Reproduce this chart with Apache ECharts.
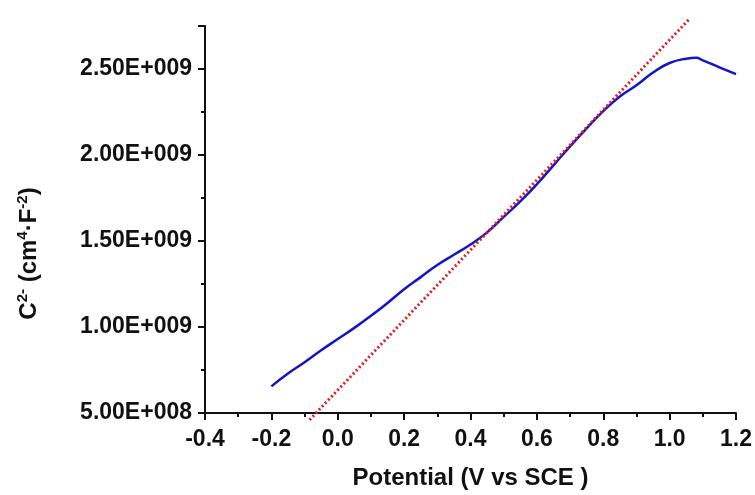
<!DOCTYPE html>
<html>
<head>
<meta charset="utf-8">
<script src="https://cdn.jsdelivr.net/npm/echarts@6/dist/echarts.min.js"></script>
<style>
  html, body { margin: 0; padding: 0; background: #fff; }
  #chart { width: 755px; height: 495px; }
</style>
</head>
<body>
<div id="chart"></div>
<script>
var myChart = echarts.init(document.getElementById('chart'));

// measured curve (potential V, C^-2)
var potential = [-0.2, -0.15, -0.1, -0.05, 0.0, 0.05, 0.1, 0.15, 0.2, 0.25,
    0.3, 0.35, 0.4, 0.45, 0.5, 0.55, 0.6, 0.65, 0.7, 0.75,
    0.8, 0.85, 0.9, 0.95, 1.0, 1.05, 1.08, 1.1, 1.15, 1.2];
var capInv = [6.55e8, 7.3e8, 7.95e8, 8.65e8, 9.3e8, 9.95e8, 1.065e9, 1.14e9, 1.22e9, 1.29e9,
    1.36e9, 1.42e9, 1.48e9, 1.55e9, 1.64e9, 1.73e9, 1.83e9, 1.94e9, 2.05e9, 2.155e9,
    2.255e9, 2.34e9, 2.405e9, 2.48e9, 2.535e9, 2.56e9, 2.565e9, 2.55e9, 2.51e9, 2.47e9];

// linear fit (Mott-Schottky line)
var fitX = [-0.085, 1.062];
var fitY = [4.6e8, 2.796e9];

var curveData = potential.map(function (x, i) { return [x, capInv[i]]; });
var fitData = fitX.map(function (x, i) { return [x, fitY[i]]; });

function sciLabel(v) {
    var s = v.toExponential(2).split('e');
    var exp = parseInt(s[1], 10);
    var sign = exp < 0 ? '-' : '+';
    var e = String(Math.abs(exp));
    while (e.length < 3) e = '0' + e;
    return s[0] + 'E' + sign + e;
}

var fontName = 'Liberation Sans, Arial, sans-serif';
var labelFont = {
    fontFamily: fontName,
    fontWeight: 'bold',
    fontSize: 23,
    color: '#111'
};

option = {
    animation: false,
    backgroundColor: '#fff',
    grid: {
        left: 205,
        right: 17,
        top: 26,
        bottom: 82
    },
    xAxis: {
        type: 'value',
        min: -0.4,
        max: 1.2,
        interval: 0.2,
        name: 'Potential (V vs SCE )',
        nameLocation: 'middle',
        nameGap: 53,
        nameTextStyle: {
            fontFamily: fontName,
            fontWeight: 'bold',
            fontSize: 24,
            color: '#111'
        },
        splitLine: { show: false },
        axisLine: {
            onZero: false,
            lineStyle: { color: '#111', width: 2 }
        },
        axisTick: {
            length: 7,
            lineStyle: { color: '#111', width: 2 }
        },
        minorTick: {
            show: true,
            splitNumber: 2,
            length: 4,
            lineStyle: { color: '#111', width: 2 }
        },
        axisLabel: Object.assign({
            margin: 15,
            formatter: function (v) { return v.toFixed(1); }
        }, labelFont)
    },
    yAxis: {
        type: 'value',
        min: 5e8,
        max: 2.75e9,
        interval: 5e8,
        name: '{n|C}{s|2-}{n| (cm}{s|4}{n|·F}{s|-2}{n|)}',
        nameLocation: 'middle',
        nameGap: 162,
        nameTextStyle: {
            padding: [0, 68, 0, 0],
            rich: {
                n: {
                    fontFamily: fontName,
                    fontWeight: 'bold',
                    fontSize: 24,
                    color: '#111',
                    lineHeight: 28
                },
                s: {
                    fontFamily: fontName,
                    fontWeight: 'bold',
                    fontSize: 15,
                    color: '#111',
                    lineHeight: 28,
                    verticalAlign: 'top',
                    padding: [0, 0, 9, 0]
                }
            }
        },
        splitLine: { show: false },
        axisLine: {
            onZero: false,
            lineStyle: { color: '#111', width: 2 }
        },
        axisTick: {
            length: 7,
            lineStyle: { color: '#111', width: 2 }
        },
        minorTick: {
            show: true,
            splitNumber: 2,
            length: 4,
            lineStyle: { color: '#111', width: 2 }
        },
        axisLabel: Object.assign({
            margin: 13,
            showMaxLabel: false,
            formatter: function (v) {
                if (Math.abs(v / 5e8 - Math.round(v / 5e8)) > 1e-6) return '';
                return sciLabel(v);
            }
        }, labelFont)
    },
    series: [{
        name: 'C-2',
        type: 'line',
        data: curveData,
        showSymbol: false,
        smooth: true,
        lineStyle: { color: '#1414c8', width: 2.5 },
        z: 2
    }, {
        name: 'fit',
        type: 'line',
        data: fitData,
        showSymbol: false,
        clip: false,
        lineStyle: { color: '#dd1f1f', width: 3, type: [2, 2.5] },
        z: 3
    }]
};

myChart.setOption(option);
</script>
</body>
</html>
